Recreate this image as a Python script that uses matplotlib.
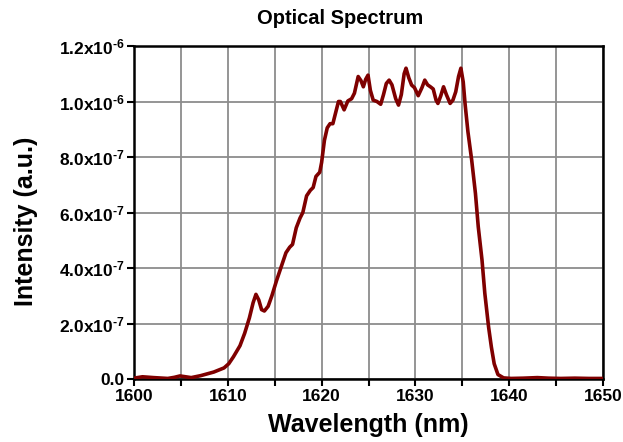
import matplotlib
matplotlib.use("Agg")
import matplotlib.pyplot as plt
import numpy as np
from matplotlib.ticker import FixedLocator, MultipleLocator

# wavelength (nm) and intensity (units of 1e-7, a.u.)
WAVELENGTH = [
    1600.0, 1600.9, 1602.1, 1603.6, 1604.3, 1604.9, 1605.5, 1606.1, 1607.1,
    1608.5, 1609.6, 1610.1, 1610.6, 1611.3, 1611.8, 1612.3, 1612.7, 1613.0,
    1613.3, 1613.6, 1613.9, 1614.3, 1614.7, 1615.2, 1615.7, 1616.2, 1616.6,
    1616.9, 1617.3, 1617.7, 1618.0, 1618.4, 1618.8, 1619.1, 1619.4, 1619.8,
    1620.0, 1620.3, 1620.6, 1620.9, 1621.2, 1621.5, 1621.8, 1622.0, 1622.4,
    1622.8, 1623.2, 1623.5, 1623.9, 1624.2, 1624.45, 1624.7, 1624.95, 1625.2,
    1625.5, 1625.9, 1626.3, 1626.6, 1626.9, 1627.2, 1627.5, 1627.9, 1628.2,
    1628.5, 1628.8, 1629.0, 1629.3, 1629.6, 1629.9, 1630.3, 1630.7, 1631.0,
    1631.3, 1631.6, 1631.9, 1632.2, 1632.4, 1632.7, 1633.0, 1633.3, 1633.7,
    1634.0, 1634.3, 1634.6, 1634.85, 1635.1, 1635.3, 1635.6, 1636.0, 1636.4,
    1636.7, 1637.1, 1637.4, 1637.8, 1638.1, 1638.4, 1638.8, 1639.4, 1640.2,
    1641.5, 1643.0, 1644.2, 1645.5, 1647.0, 1648.5, 1650.0,
]
INTENSITY = [
    0.03, 0.08, 0.05, 0.02, 0.06, 0.11, 0.08, 0.05, 0.12,
    0.25, 0.40, 0.55, 0.80, 1.20, 1.65, 2.20, 2.75, 3.05,
    2.85, 2.50, 2.45, 2.62, 3.00, 3.55, 4.05, 4.55, 4.75,
    4.85, 5.45, 5.80, 6.00, 6.60, 6.80, 6.90, 7.30, 7.45,
    7.80, 8.60, 9.05, 9.20, 9.20, 9.60, 10.00, 10.00, 9.70,
    10.02, 10.10, 10.30, 10.90, 10.75, 10.53, 10.80, 10.95, 10.40,
    10.05, 10.00, 9.90, 10.25, 10.65, 10.77, 10.60, 10.10, 9.87,
    10.25, 11.00, 11.20, 10.85, 10.59, 10.50, 10.21, 10.50, 10.77,
    10.60, 10.53, 10.45, 10.05, 9.93, 10.20, 10.53, 10.25, 9.93,
    10.05, 10.35, 10.90, 11.20, 10.70, 9.90, 8.91, 7.89, 6.69,
    5.49, 4.29, 3.09, 1.88, 1.15, 0.55, 0.16, 0.04, 0.02,
    0.03, 0.05, 0.03, 0.02, 0.03, 0.02, 0.02,
]

Y_TICKS = [0.0, 2e-7, 4e-7, 6e-7, 8e-7, 1e-6, 1.2e-6]
Y_LABELS = ["0.0", r"2.0x10$^{\text{-7}}$", r"4.0x10$^{\text{-7}}$", r"6.0x10$^{\text{-7}}$",
            r"8.0x10$^{\text{-7}}$", r"1.0x10$^{\text{-6}}$", r"1.2x10$^{\text{-6}}$"]

plt.rcParams["font.family"] = ["Liberation Sans", "DejaVu Sans"]
plt.rcParams["font.weight"] = "bold"
plt.rcParams["mathtext.fontset"] = "custom"
plt.rcParams["mathtext.rm"] = "Liberation Sans:bold"
plt.rcParams["mathtext.bf"] = "Liberation Sans:bold"
plt.rcParams["mathtext.default"] = "bf"

fig = plt.figure(figsize=(6.23, 4.42), dpi=100)
ax = fig.add_axes([134 / 623, 1 - 379 / 442, 469 / 623, 333 / 442])

x = np.array(WAVELENGTH)
y = np.array(INTENSITY) * 1e-7
ax.plot(x, y, color="#7f0000", linewidth=2.6, solid_joinstyle="round",
        solid_capstyle="round", zorder=3)

ax.set_xlim(1600, 1650)
ax.set_ylim(0, 1.2e-6)
ax.xaxis.set_major_locator(MultipleLocator(10))
ax.xaxis.set_minor_locator(MultipleLocator(5))
ax.yaxis.set_major_locator(FixedLocator(Y_TICKS))
ax.set_yticks(Y_TICKS)
ax.set_yticklabels(Y_LABELS)

ax.grid(which="both", axis="x", color="#8c8c8c", linewidth=1.3, zorder=1)
ax.grid(which="major", axis="y", color="#8c8c8c", linewidth=1.3, zorder=1)
ax.set_axisbelow(True)

ax.tick_params(which="both", direction="out", width=1.5, labelsize=12.5, pad=2, length=5)
for lab in ax.get_xticklabels() + ax.get_yticklabels():
    lab.set_fontweight("bold")
for spine in ax.spines.values():
    spine.set_linewidth(1.8)
    spine.set_color("black")

ax.set_xlabel("Wavelength (nm)", fontsize=18, fontweight="bold", labelpad=7)
ax.set_ylabel("Intensity (a.u.)", fontsize=18, fontweight="bold")
ax.yaxis.set_label_coords(-0.205, 0.474)
fig.text(340 / 623, 1 - 19 / 442, "Optical Spectrum", ha="center", va="center",
         fontsize=14.5, fontweight="bold")

fig.savefig("out.png", dpi=100)
